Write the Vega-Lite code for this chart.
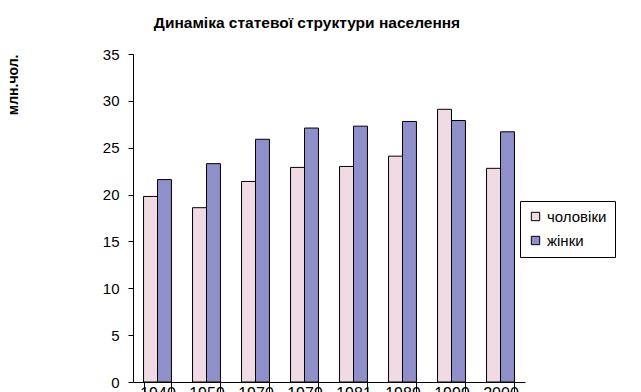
{
  "$schema": "https://vega.github.io/schema/vega-lite/v6.json",
  "width": 392,
  "height": 328,
  "autosize": {"type": "none"},
  "padding": {"left": 133, "top": 54, "right": 116, "bottom": 10},
  "background": "white",
  "title": {
    "text": "Динаміка статевої структури населення",
    "font": "Liberation Sans",
    "fontSize": 15.5,
    "fontWeight": "bold",
    "color": "black",
    "anchor": "middle",
    "dx": -22,
    "offset": 16
  },
  "data": {
    "values": [
      {"year": "1940", "sex": "чоловіки", "value": 19.8},
      {"year": "1940", "sex": "жінки", "value": 21.6},
      {"year": "1959", "sex": "чоловіки", "value": 18.6},
      {"year": "1959", "sex": "жінки", "value": 23.3},
      {"year": "1970", "sex": "чоловіки", "value": 21.4},
      {"year": "1970", "sex": "жінки", "value": 25.9},
      {"year": "1979", "sex": "чоловіки", "value": 22.9},
      {"year": "1979", "sex": "жінки", "value": 27.1},
      {"year": "1981", "sex": "чоловіки", "value": 23.0},
      {"year": "1981", "sex": "жінки", "value": 27.3},
      {"year": "1989", "sex": "чоловіки", "value": 24.1},
      {"year": "1989", "sex": "жінки", "value": 27.8},
      {"year": "1999", "sex": "чоловіки", "value": 29.1},
      {"year": "1999", "sex": "жінки", "value": 27.9},
      {"year": "2000", "sex": "чоловіки", "value": 22.8},
      {"year": "2000", "sex": "жінки", "value": 26.7}
    ]
  },
  "mark": {"type": "bar", "stroke": "black", "strokeWidth": 1},
  "encoding": {
    "x": {
      "field": "year",
      "type": "nominal",
      "sort": null,
      "scale": {"paddingInner": 0.43, "paddingOuter": 0.215},
      "axis": {
        "title": null,
        "labelAngle": 0,
        "labelFont": "Liberation Sans",
        "labelFontSize": 16,
        "labelColor": "black",
        "labelPadding": -27,
        "labelBaseline": "top",
        "domainColor": "black",
        "tickColor": "black",
        "tickBand": "extent",
        "tickSize": 30
      }
    },
    "xOffset": {"field": "sex", "type": "nominal", "sort": ["чоловіки", "жінки"]},
    "y": {
      "field": "value",
      "type": "quantitative",
      "scale": {"domain": [0, 35]},
      "axis": {
        "title": "млн.чол.",
        "titleFont": "Liberation Sans",
        "titleFontSize": 14,
        "titleFontWeight": "bold",
        "titleColor": "black",
        "titleAnchor": "end",
        "titlePadding": 82,
        "values": [0, 5, 10, 15, 20, 25, 30, 35],
        "grid": false,
        "labelFont": "Liberation Sans",
        "labelFontSize": 15,
        "labelColor": "black",
        "labelPadding": 9,
        "domainColor": "black",
        "tickColor": "black",
        "tickSize": 5
      }
    },
    "fill": {
      "field": "sex",
      "type": "nominal",
      "sort": ["чоловіки", "жінки"],
      "scale": {"domain": ["чоловіки", "жінки"], "range": ["#f0dae4", "#8f8fc9"]},
      "legend": {
        "title": null,
        "orient": "none",
        "legendX": 387,
        "legendY": 147,
        "symbolType": "square",
        "symbolSize": 70,
        "symbolStrokeColor": "black",
        "symbolStrokeWidth": 1,
        "labelFont": "Liberation Sans",
        "labelFontSize": 15,
        "labelColor": "black",
        "rowPadding": 8,
        "padding": 8,
        "strokeColor": "black",
        "fillColor": "white"
      }
    }
  },
  "config": {"view": {"stroke": null}}
}
